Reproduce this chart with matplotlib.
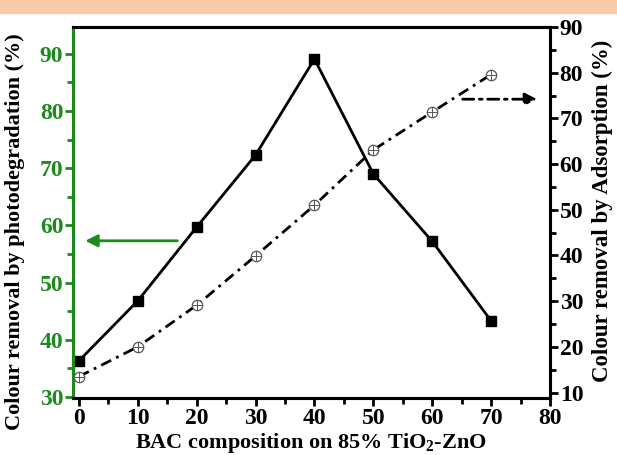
import matplotlib
matplotlib.use("Agg")
import matplotlib.pyplot as plt
from matplotlib.patches import Rectangle

plt.rcParams['font.family'] = ['Liberation Serif', 'DejaVu Serif']
plt.rcParams['font.weight'] = 'bold'
plt.rcParams['mathtext.fontset'] = 'custom'
plt.rcParams['mathtext.rm'] = 'Liberation Serif:bold'
plt.rcParams['mathtext.it'] = 'Liberation Serif:bold:italic'
plt.rcParams['mathtext.bf'] = 'Liberation Serif:bold'

# data
bac = [0, 10, 20, 30, 40, 50, 60, 70]
photodeg = [36.3, 46.8, 59.7, 72.3, 89.1, 69.0, 57.2, 43.3]
adsorption = [13.5, 20.0, 29.1, 39.9, 51.0, 63.1, 71.4, 79.6]
x_ticks = [0, 10, 20, 30, 40, 50, 60, 70, 80]
left_ticks = [30, 40, 50, 60, 70, 80, 90]
right_ticks = [10, 20, 30, 40, 50, 60, 70, 80, 90]

green = '#1c8a1c'
W, H = 617, 455
fs = 16
tfs = 17
fig = plt.figure(figsize=(W / 100, H / 100), dpi=100)

# top banner
fig.patches.append(Rectangle((0, 1 - 13 / H), 1, 13 / H, transform=fig.transFigure,
                             color='#f6cba6', zorder=0))

ax = fig.add_axes([73 / W, 1 - 398 / H, (550 - 73) / W, (398 - 27) / H])
ax2 = ax.twinx()

ax.plot(bac, photodeg, color='black', lw=2, marker='s', ms=7, mfc='black', mec='black', zorder=3)
ax2.plot(bac, adsorption, color='black', lw=2, linestyle=(0, (4, 2, 1, 2)), zorder=3)
ax2.plot(bac, adsorption, linestyle='none', marker='o', ms=7.5, mfc='white', mec='#555555',
         mew=0.9, zorder=4)
ax2.plot(bac, adsorption, linestyle='none', marker='+', ms=7.5, mec='#555555', mew=0.7, zorder=5)

ax.set_xlim(-1, 80)
ax.set_ylim(29.8, 94.7)
ax2.set_ylim(8.8, 90)

ax.set_xticks(x_ticks)
ax.set_xticks(range(5, 80, 10), minor=True)
ax.set_yticks(left_ticks)
ax.set_yticks(range(35, 95, 10), minor=True)
ax2.set_yticks(right_ticks)
ax2.set_yticks(range(15, 90, 10), minor=True)

for a in (ax, ax2):
    for s in a.spines.values():
        s.set_linewidth(2.2)
ax.spines['left'].set_color(green)
ax2.spines['left'].set_color(green)

ax.tick_params(axis='x', which='major', direction='out', length=6, width=2, labelsize=tfs, pad=1)
ax.tick_params(axis='x', which='minor', direction='out', length=4, width=2)
ax.tick_params(axis='y', which='major', direction='out', length=6, width=2, labelsize=tfs,
               colors=green, pad=1)
ax.tick_params(axis='y', which='minor', direction='out', length=4, width=2, colors=green)
ax2.tick_params(axis='y', which='major', direction='out', length=6, width=2, labelsize=tfs, pad=1)
ax2.tick_params(axis='y', which='minor', direction='out', length=4, width=2)
for lab in ax.get_xticklabels() + ax.get_yticklabels() + ax2.get_yticklabels():
    lab.set_fontweight('bold')

# arrows
ax.annotate('', xy=(0.6, 57.3), xytext=(17.2, 57.3),
            arrowprops=dict(arrowstyle='-|>', color=green, lw=2, mutation_scale=18))
ax2.annotate('', xy=(78.3, 74.2), xytext=(64.7, 74.2),
             arrowprops=dict(arrowstyle='-|>', color='black', lw=2, mutation_scale=18,
                             linestyle=(0, (4, 2, 1, 2))))

fig.text(15 / W, 1 - 232 / H, 'Colour removal by photodegradation (%)', rotation=90,
         ha='center', va='center', fontsize=fs, fontweight='bold')
fig.text(602 / W, 1 - 211 / H, 'Colour removal by Adsorption (%)', rotation=90,
         ha='center', va='center', fontsize=16.5, fontweight='bold')
fig.text(311 / W, 1 - 443 / H, 'BAC composition on 85% TiO$_2$-ZnO',
         ha='center', va='center', fontsize=fs, fontweight='bold')

fig.savefig('out.png', dpi=100)
